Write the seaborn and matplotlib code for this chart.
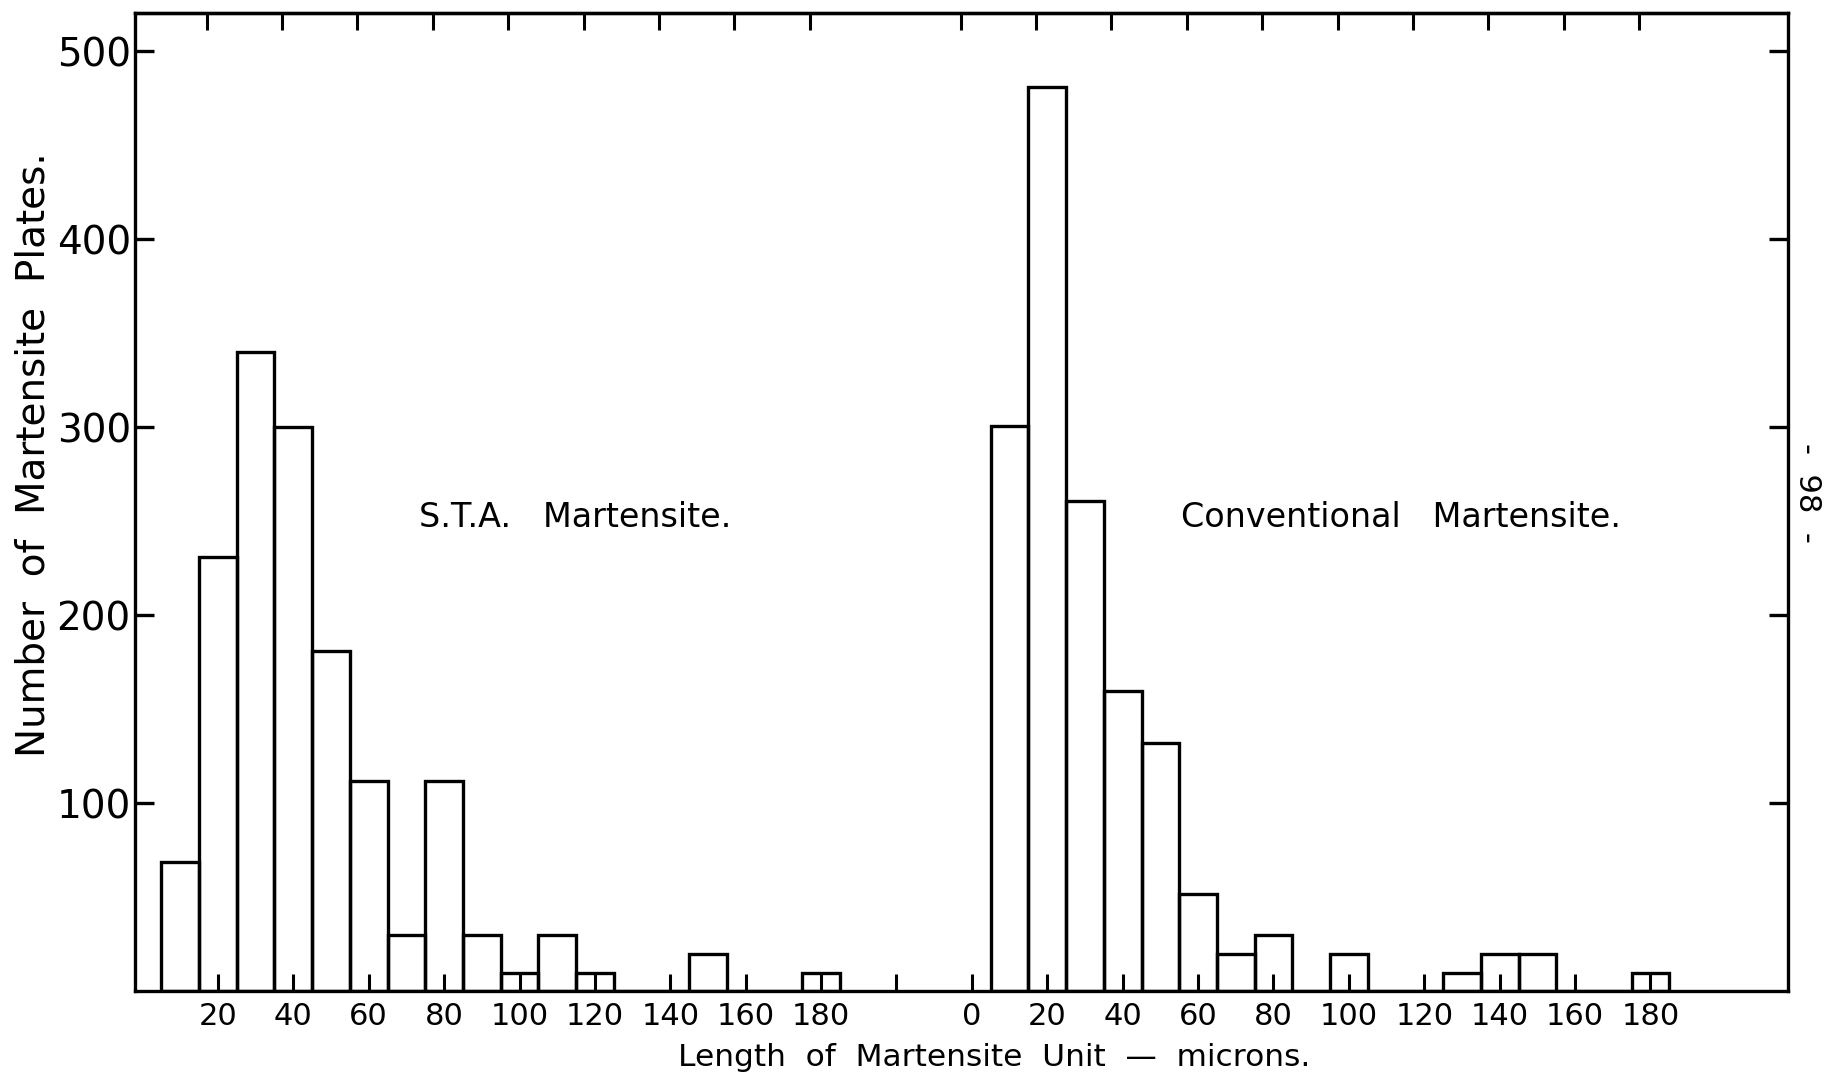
import numpy as np
import pandas as pd
import matplotlib
matplotlib.use("Agg")
import matplotlib.pyplot as plt
from matplotlib.ticker import NullFormatter
import seaborn as sns

# Bin centres (microns) and plate counts for each heat treatment
length_bins = [10, 20, 30, 40, 50, 60, 70, 80, 90, 100, 110, 120, 130, 140, 150, 160, 170, 180]
sta_counts = [69, 231, 340, 300, 181, 112, 30, 112, 30, 10, 30, 10, 0, 0, 20, 0, 0, 10]
conventional_counts = [301, 481, 261, 160, 132, 52, 20, 30, 0, 20, 0, 0, 10, 20, 20, 0, 0, 10]

# Shared length axis: second histogram is drawn shifted along x
panel_offset = 220
x_tick_labels = ["20", "40", "60", "80", "100", "120", "140", "160", "180", "",
                 "0", "20", "40", "60", "80", "100", "120", "140", "160", "180"]
y_ticks = [100, 200, 300, 400, 500]
y_tick_labels = ["100", "200", "300", "400", "500"]

sns.set_theme(style="white")
plt.rcParams["font.family"] = ["DejaVu Sans"]

fig = plt.figure(figsize=(18.39, 10.77), dpi=100)
ax = fig.add_axes([0.0734, 0.0795, 0.8989, 0.9084])

bin_width = 10
edges = [float(e) for e in np.arange(length_bins[0] - bin_width / 2,
                                     length_bins[-1] + bin_width, bin_width)]

sta = pd.DataFrame({"length": length_bins, "count": sta_counts})
conv = pd.DataFrame({"length": [v + panel_offset for v in length_bins],
                     "count": conventional_counts})

hist_kw = dict(fill=False, color="black", linewidth=2.4, ax=ax)
sns.histplot(data=sta, x="length", weights="count", bins=edges, **hist_kw)
sns.histplot(data=conv, x="length", weights="count",
             bins=[e + panel_offset for e in edges], **hist_kw)

ax.set_xlim(-2, 436.5)
ax.set_ylim(0, 520.4)
ax.set_xlabel("")
ax.set_ylabel("")

for side in ["left", "right", "top", "bottom"]:
    ax.spines[side].set_visible(True)
    ax.spines[side].set_color("black")
    ax.spines[side].set_linewidth(2.4)

# Bottom ticks every 20 microns, labelled per panel
bottom_ticks = np.arange(20, 401, 20)
ax.set_xticks(bottom_ticks)
ax.set_xticklabels(x_tick_labels)
ax.tick_params(axis="x", direction="in", length=12, width=2.2, pad=8,
               labelsize=22, colors="black", top=False, bottom=True)

ax.set_yticks(y_ticks)
ax.set_yticklabels(y_tick_labels)
ax.tick_params(axis="y", direction="in", length=14, width=2.4, pad=3,
               labelsize=28, colors="black", left=True, right=True, labelright=False)

# Graph-paper ticks along the upper edge
top_ticks = [p for p in np.arange(17, 400, 20) if abs(p - 197) > 1]
top = ax.secondary_xaxis("top")
top.set_xticks(top_ticks)
top.xaxis.set_major_formatter(NullFormatter())
top.tick_params(axis="x", direction="in", length=12, width=2.2, colors="black")
top.spines["top"].set_linewidth(2.4)

ax.text(73.4, 252, "S.T.A.   Martensite.", ha="left", va="center", fontsize=24, color="black")
ax.text(275.5, 252, "Conventional   Martensite.", ha="left", va="center", fontsize=24, color="black")

fig.text(0.018, 0.578, "Number  of  Martensite  Plates.", rotation=90,
         ha="center", va="center", fontsize=28, color="black")
fig.text(0.5405, 0.018, "Length  of  Martensite  Unit  —  microns.",
         ha="center", va="center", fontsize=22.5, color="black")
fig.text(0.983, 0.542, "-  98  -", rotation=-90, ha="center", va="center",
         fontsize=22, color="black")

fig.savefig("out.png", dpi=100, facecolor="white")
